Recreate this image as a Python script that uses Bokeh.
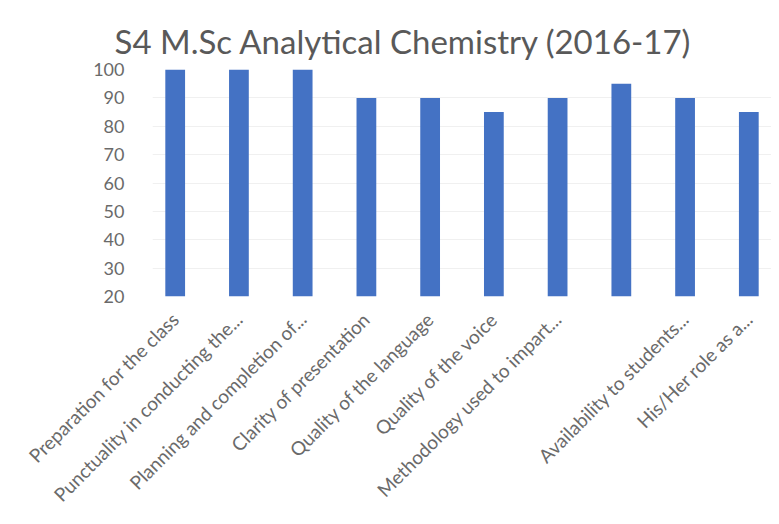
from bokeh.plotting import figure
from bokeh.models import FactorRange, Range1d, ColumnDataSource, FixedTicker
from bokeh.embed import file_html
from bokeh.resources import INLINE
from math import pi

categories = [
    "Preparation for the class",
    "Punctuality in conducting the...",
    "Planning and completion of...",
    "Clarity of presentation",
    "Quality of the language",
    "Quality of the voice",
    "Methodology used to impart...",
    " ",
    "Availability to students...",
    "His/Her role as a...",
]
values = [100, 100, 100, 90, 90, 85, 90, 95, 90, 85]
y_ticks = [20, 30, 40, 50, 60, 70, 80, 90, 100]

src = ColumnDataSource(data=dict(cat=categories, val=values))

p = figure(
    x_range=FactorRange(factors=categories, range_padding=-0.144, range_padding_units="absolute"),
    y_range=Range1d(20, 100),
    width=771, height=516,
    output_backend="svg", toolbar_location=None,
    min_border_left=152, min_border_right=0, min_border_top=69, min_border_bottom=219,
)
p.vbar(x="cat", top="val", bottom=20, width=0.31, source=src,
       fill_color="#4472C4", line_color=None)

p.title.text = "S4 M.Sc Analytical Chemistry (2016-17)"
p.title.align = "left"
p.title.offset = -38
p.title.text_font = "Lato"
p.title.text_font_size = "33px"
p.title.text_font_style = "normal"
p.title.text_color = "#595959"
p.title.standoff = 18

p.outline_line_color = None
p.xgrid.grid_line_color = None
p.ygrid.grid_line_color = "#f0f0f0"
p.yaxis.ticker = FixedTicker(ticks=y_ticks)

for ax in (p.xaxis, p.yaxis):
    ax.axis_line_color = None
    ax.major_tick_line_color = None
    ax.minor_tick_line_color = None
    ax.major_label_text_font = "Lato"
    ax.major_label_text_color = "#6a6a6a"

p.yaxis.major_label_text_font_size = "18px"
p.yaxis.major_label_standoff = 22
p.xaxis.major_label_text_font_size = "19px"
p.xaxis.major_label_orientation = pi / 4
p.xaxis.major_label_standoff = 13

open("out.html", "w").write(file_html(p, INLINE))
